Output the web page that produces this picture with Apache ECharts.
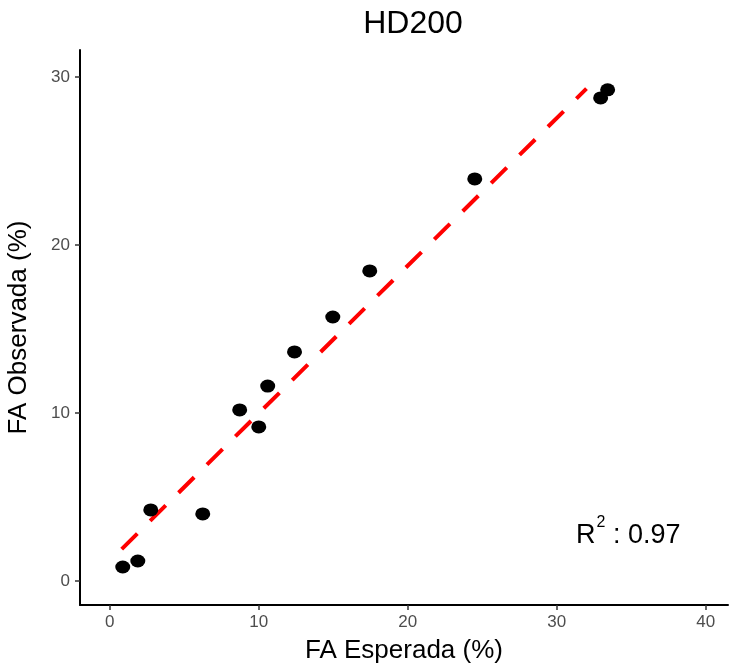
<!DOCTYPE html>
<html>
<head>
<meta charset="utf-8">
<script src="https://cdn.jsdelivr.net/npm/echarts@6/dist/echarts.min.js"></script>
<style>
  html, body { margin: 0; padding: 0; background: #fff; }
  #chart { width: 730px; height: 665px; }
</style>
</head>
<body>
<div id="chart"></div>
<script>
// valores
const esperada = [0.87, 1.88, 2.75, 6.24, 8.72, 10.0, 10.6, 12.4, 14.97, 17.45, 24.5, 32.95, 33.42];
const observada = [0.83, 1.19, 4.23, 3.99, 10.18, 9.17, 11.6, 13.63, 15.71, 18.45, 23.93, 28.75, 29.23];
const ajusteX = [0.8, 32.0];
const ajusteY = [1.9, 29.3];
const ticksX = [0, 10, 20, 30, 40];
const ticksY = [0, 10, 20, 30];
const r2 = '0.97';

const chart = echarts.init(document.getElementById('chart'));
const fuente = 'Liberation Sans, Arial';
const axisCommon = {
    axisLine: { show: true, onZero: false, lineStyle: { color: '#000', width: 2 } },
    axisTick: { show: true, length: 5, lineStyle: { color: '#333', width: 1.5 } },
    axisLabel: { color: '#4d4d4d', fontSize: 17, fontFamily: fuente, margin: 8 },
    splitLine: { show: false },
    nameLocation: 'middle',
    nameTextStyle: { color: '#000', fontSize: 26, fontFamily: fuente }
};

chart.setOption({
    backgroundColor: '#fff',
    animation: false,
    title: {
        text: 'HD200',
        left: 408,
        top: 3,
        textAlign: 'center',
        textStyle: { fontSize: 32, fontWeight: 'normal', color: '#000', fontFamily: fuente }
    },
    grid: { left: 80, right: 2, top: 50, bottom: 60, containLabel: false, outerBoundsMode: 'none' },
    xAxis: Object.assign({}, axisCommon, {
        type: 'value',
        min: -2,
        max: 41.5,
        name: 'FA Esperada (%)',
        nameGap: 33,
        axisTick: Object.assign({}, axisCommon.axisTick, { customValues: ticksX }),
        axisLabel: Object.assign({}, axisCommon.axisLabel, { customValues: ticksX, margin: 9 })
    }),
    yAxis: Object.assign({}, axisCommon, {
        type: 'value',
        min: -1.43,
        max: 31.6,
        name: 'FA Observada (%)',
        nameGap: 48,
        axisTick: Object.assign({}, axisCommon.axisTick, { customValues: ticksY }),
        axisLabel: Object.assign({}, axisCommon.axisLabel, { customValues: ticksY, margin: 10 })
    }),
    graphic: [{
        type: 'text',
        left: 576,
        top: 515,
        style: {
            text: '{r|R}{s|2}{r| : ' + r2 + '}',
            rich: {
                r: { fontSize: 27, fill: '#000', fontFamily: fuente, verticalAlign: 'bottom', lineHeight: 34 },
                s: { fontSize: 16, fill: '#000', fontFamily: fuente, verticalAlign: 'top', lineHeight: 34, padding: [0, 0, 14, 1] }
            }
        }
    }],
    series: [{
        type: 'line',
        data: ajusteX.map((x, i) => [x, ajusteY[i]]),
        symbol: 'none',
        lineStyle: { color: '#ff0000', width: 4, type: [22, 18], cap: 'butt' },
        z: 2
    }, {
        type: 'scatter',
        data: esperada.map((x, i) => [x, observada[i]]),
        symbol: 'circle',
        symbolSize: [15, 13],
        itemStyle: { color: '#000', opacity: 1 },
        z: 3
    }]
});
</script>
</body>
</html>
